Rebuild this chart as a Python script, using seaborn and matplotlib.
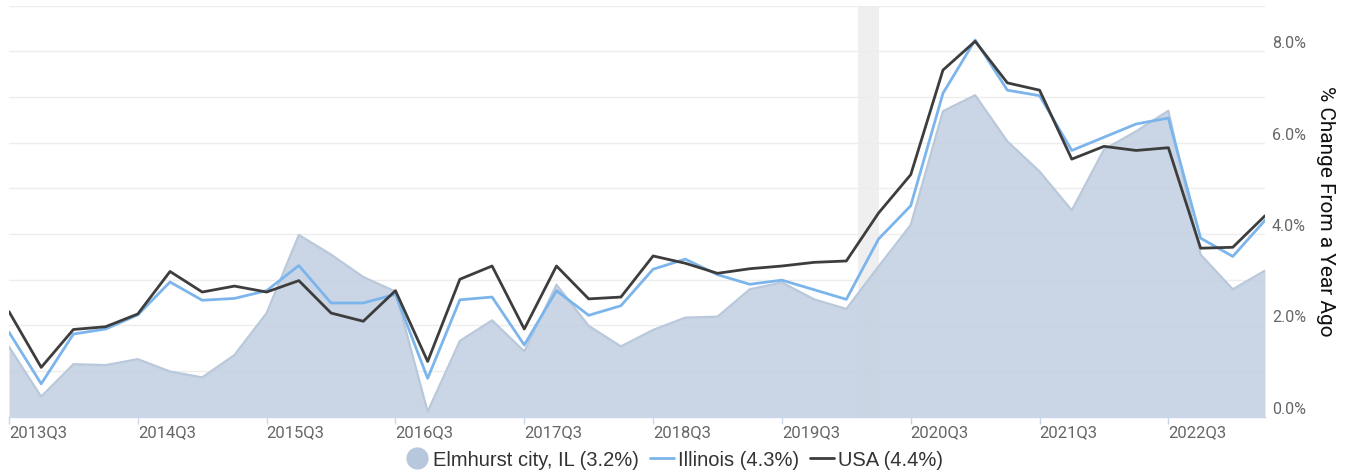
import numpy as np
import pandas as pd
import matplotlib
matplotlib.use("Agg")
import matplotlib.pyplot as plt
import seaborn as sns
from matplotlib.lines import Line2D

# --- datos (porcentaje de cambio anual, trimestral 2013Q3 - 2023Q2) ---
trimestres = [f"{a}Q{q}" for a in range(2013, 2024) for q in range(1, 5)][2:42]

elmhurst = [1.53, 0.44, 1.15, 1.13, 1.26, 0.99, 0.86, 1.35, 2.27, 3.98,
            3.55, 3.06, 2.74, 0.11, 1.66, 2.11, 1.43, 2.89, 1.99, 1.54,
            1.90, 2.17, 2.19, 2.79, 2.94, 2.57, 2.36, 3.29, 4.20, 6.69,
            7.04, 6.03, 5.37, 4.52, 5.85, 6.25, 6.70, 3.55, 2.79, 3.20]

illinois = [1.85, 0.72, 1.81, 1.92, 2.23, 2.95, 2.55, 2.59, 2.76, 3.31,
            2.49, 2.49, 2.68, 0.84, 2.56, 2.62, 1.57, 2.76, 2.22, 2.43,
            3.23, 3.45, 3.11, 2.90, 2.99, 2.78, 2.57, 3.89, 4.62, 7.08,
            8.25, 7.15, 7.03, 5.83, 6.12, 6.41, 6.54, 3.91, 3.51, 4.30]

usa = [2.30, 1.08, 1.91, 1.97, 2.25, 3.18, 2.73, 2.86, 2.73, 2.98,
       2.27, 2.09, 2.76, 1.21, 3.01, 3.30, 1.92, 3.30, 2.58, 2.62,
       3.52, 3.36, 3.14, 3.24, 3.30, 3.38, 3.41, 4.46, 5.30, 7.59,
       8.22, 7.31, 7.15, 5.64, 5.92, 5.83, 5.89, 3.69, 3.71, 4.40]

recesion = ("2020Q1", "2020Q2")  # banda gris

df = pd.DataFrame({"t": np.arange(len(trimestres)), "trimestre": trimestres,
                   "Elmhurst": elmhurst, "Illinois": illinois, "USA": usa})

sns.set_theme(style="white")
plt.rcParams["font.family"] = ["Roboto", "DejaVu Sans"]

fig = plt.figure(figsize=(13.49, 4.75), dpi=100)
ax = fig.add_axes([9 / 1349, (475 - 416.7) / 475, 1256 / 1349, 411 / 475])

# banda de recesión
i0 = trimestres.index(recesion[0])
ax.axvspan(i0 + 0.35, i0 + 1.0, color="#efefef", zorder=0, lw=0)

# área de Elmhurst + líneas
ax.fill_between(df["t"], 0, df["Elmhurst"], color="#c6d3e3", alpha=0.93, lw=0, zorder=1)
sns.lineplot(data=df, x="t", y="Elmhurst", color="#b9c8da", lw=1.6, ax=ax, zorder=2)
sns.lineplot(data=df, x="t", y="Illinois", color="#7cb5ec", lw=2.0, ax=ax, zorder=3)
sns.lineplot(data=df, x="t", y="USA", color="#3d3d3d", lw=2.0, ax=ax, zorder=4)

ax.set_xlim(0, len(trimestres) - 1)
ax.set_ylim(0, 9)

# rejilla horizontal cada 1%
for v in range(1, 10):
    ax.axhline(v, color="#ededed", lw=1, zorder=0.5)

for s in ["top", "left", "right"]:
    ax.spines[s].set_visible(False)
ax.spines["bottom"].set_color("#ccd6eb")
ax.spines["bottom"].set_linewidth(1)

# eje x: etiquetas en cada Q3
pos_q3 = [i for i, t in enumerate(trimestres) if t.endswith("Q3")]
ax.set_xticks(pos_q3)
ax.set_xticklabels([trimestres[i] for i in pos_q3], ha="left", fontsize=12, color="#666666")
ax.tick_params(axis="x", length=5, width=1, color="#ccd6eb", pad=1, bottom=True)

# eje y a la derecha
ax.yaxis.tick_right()
ax.set_yticks([0, 2, 4, 6, 8])
ax.set_yticklabels([f"{v:.1f}%" for v in [0, 2, 4, 6, 8]], fontsize=11.5, color="#666666")
ax.tick_params(axis="y", length=0, pad=5)
for lbl in ax.get_yticklabels():
    lbl.set_va("bottom")

ax.set_xlabel("")
ax.set_ylabel("")
fig.text(1325 / 1349, 1 - 211 / 475, "% Change From a Year Ago", rotation=270,
         ha="center", va="center", fontsize=15, color="#111111")

# leyenda
handles = [
    Line2D([], [], marker="o", ls="", markersize=15, markerfacecolor="#b7c7dc", markeredgecolor="#b7c7dc"),
    Line2D([], [], color="#7cb5ec", lw=2),
    Line2D([], [], color="#3d3d3d", lw=2),
]
labels = ["Elmhurst city, IL (3.2%)", "Illinois (4.3%)", "USA (4.4%)"]
fig.legend(handles, labels, loc="center", bbox_to_anchor=(674 / 1349, 1 - 460 / 475), ncol=3,
           frameon=False, handlelength=1.2, handletextpad=0.2, columnspacing=0.55,
           prop={"family": ["Liberation Sans", "DejaVu Sans"], "size": 14.5}, labelcolor="#333333")

fig.savefig("out.png", dpi=100)
